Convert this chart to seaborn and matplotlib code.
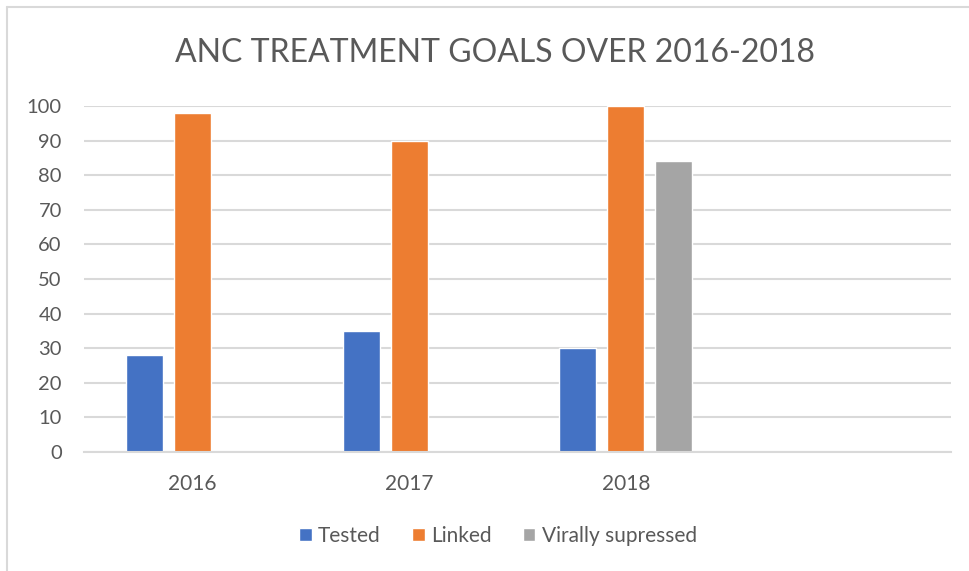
import pandas as pd
import seaborn as sns
import matplotlib.pyplot as plt
from matplotlib.lines import Line2D
from matplotlib.patches import Patch
import numpy as np

# Chart values
years = ['2016', '2017', '2018']
series = ['Tested', 'Linked', 'Virally supressed']
tested = [28, 35, 30]
linked = [98, 90, 100]
virally = [np.nan, np.nan, 84]
colors = ['#4472C4', '#ED7D31', '#A5A5A5']

df = pd.DataFrame({
    'Year': years * 3,
    'Series': [s for s in series for _ in years],
    'Value': tested + linked + virally,
})

sns.set_style('white')
plt.rcParams['font.family'] = ['Lato', 'DejaVu Sans']

fig = plt.figure(figsize=(9.69, 5.71), dpi=100)
ax = fig.add_axes([84 / 969, 1 - 452 / 571, 867 / 969, 346 / 571])

sns.barplot(data=df, x='Year', y='Value', hue='Series', order=years,
            hue_order=series, palette=colors, width=0.6645, gap=0.23,
            saturation=1, errorbar=None, legend=False, ax=ax)

# Excel chart leaves an empty fourth category slot
ax.set_xlim(-0.5, 3.5)
ax.set_ylim(0, 100)
ax.set_yticks(range(0, 101, 10))
ax.yaxis.grid(True, color='#d9d9d9', linewidth=1.5)
ax.set_axisbelow(True)
for side in ['top', 'right', 'left']:
    ax.spines[side].set_visible(False)
ax.spines['bottom'].set_color('#d9d9d9')
ax.spines['bottom'].set_linewidth(1.5)
ax.tick_params(axis='y', length=0, pad=16, labelsize=14.5, labelcolor='#595959')
ax.tick_params(axis='x', length=0, pad=16, labelsize=15, labelcolor='#595959')
ax.set_xlabel('')
ax.set_ylabel('')

fig.text(495 / 969, 1 - 53 / 571, 'ANC TREATMENT GOALS OVER 2016-2018',
         ha='center', va='center', fontsize=23, color='#595959')

handles = [Patch(facecolor=c) for c in colors]
fig.legend(handles, ['Tested', 'Linked', 'Virally supressed'], loc='center',
           bbox_to_anchor=(498 / 969, 1 - 536 / 571), ncol=3, frameon=False,
           fontsize=15, labelcolor='#595959', handlelength=0.6, handleheight=0.6,
           handletextpad=0.3, columnspacing=1.5)

# chart area border (left and top edges visible in the crop)
fig.add_artist(Line2D([7 / 969, 7 / 969], [1 - 7 / 571, 0], color='#d9d9d9', linewidth=1.5))
fig.add_artist(Line2D([7 / 969, 1], [1 - 7 / 571, 1 - 7 / 571], color='#d9d9d9', linewidth=1.5))

plt.savefig('out.png', dpi=100, facecolor='white')
